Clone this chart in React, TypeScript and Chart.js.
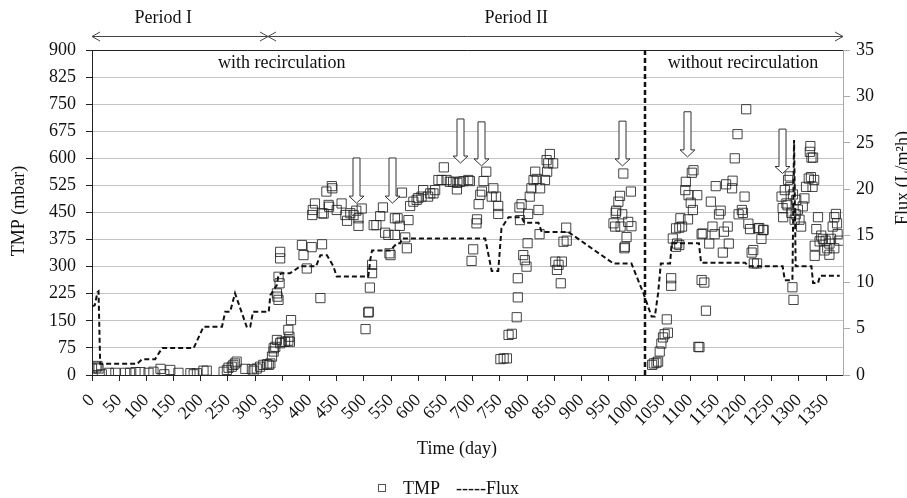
import React, { useEffect, useRef } from "react";
import { Chart, registerables } from "chart.js";

Chart.register(...registerables);

// ---- Data ----
const tmpDays: number[] = [
  0, 8, 10, 12, 18, 31, 43, 61, 70, 80, 89, 104, 113, 126, 133, 144, 159, 181, 187, 193, 205, 211,
  242, 248, 251, 257, 260, 263, 266, 282, 294, 297, 303, 309, 315, 322, 325, 328, 331, 334, 334, 337,
  340, 346, 349, 355, 361, 364, 361, 363, 366, 340, 341, 343, 343, 345, 346, 346,
  386, 389, 395, 404, 420, 423, 406, 405, 410, 426,
  423, 431, 441, 442, 435, 436, 450, 459, 469, 466, 475, 481, 486, 490, 490, 496, 518, 523, 530, 535,
  539, 545, 557, 547, 549, 557, 562, 566, 570, 582, 576, 579, 515, 515, 511, 508, 509, 503, 585, 591,
  597, 600, 606, 609, 618, 622, 628, 631, 637, 643, 647, 652, 658, 664, 671, 672, 677, 683, 692, 695,
  725, 720, 717, 714, 711, 708, 707, 738, 735, 743, 747, 747, 701, 698, 786, 790, 787, 802, 805, 808,
  812, 815, 818, 824, 821, 833, 836, 839, 842, 848, 837, 801, 793, 796, 799, 783, 783, 781, 772, 766,
  763, 757, 751, 823, 852, 858, 864, 855, 862, 867, 873, 872,
  977, 991, 971, 968, 964, 963, 975, 959, 962, 972, 986, 992, 983, 979, 980,
  1033, 1030, 1038, 1041, 1044, 1047, 1050, 1053, 1059, 1057, 1065, 1065, 1068, 1074, 1076, 1080, 1074,
  1082, 1080, 1085, 1096, 1105, 1101, 1097, 1113, 1091, 1092, 1103, 1106, 1117, 1115, 1121, 1123, 1121,
  1126, 1129, 1135, 1138, 1141, 1145, 1147, 1153, 1156, 1160, 1162, 1166, 1169, 1171, 1177, 1178, 1182,
  1187, 1189, 1195, 1197, 1200, 1203, 1207, 1210, 1213, 1216, 1217, 1223, 1227, 1231, 1235, 1225, 1234,
  1268, 1270, 1271, 1274, 1277, 1280, 1283, 1288, 1290, 1286, 1292, 1295, 1298, 1301, 1304, 1307, 1310,
  1313, 1318, 1322, 1328, 1325, 1320, 1323, 1321, 1326, 1335, 1332, 1329, 1329, 1341, 1344, 1349, 1352,
  1356, 1359, 1362, 1365, 1368, 1371, 1374, 1356, 1365, 1370, 1284, 1289, 1279, 1294, 1338, 1347,
];
const tmpValues: number[] = [
  18, 21, 25, 18, 2, 6, 6, 6, 6, 8, 8, 6, 9, 17, 2, 14, 6, 5, 2, 5, 12, 12,
  9, 14, 20, 23, 28, 32, 37, 17, 16, 12, 18, 23, 28, 30, 28, 32, 51, 65, 74, 78,
  97, 88, 92, 92, 95, 92, 125, 106, 152, 226, 217, 208, 272, 254, 323, 341,
  360, 332, 295, 354, 213, 362, 457, 443, 475, 447,
  448, 508, 523, 517, 471, 466, 457, 475, 427, 443, 448, 443, 455, 434, 413, 461, 415, 415, 440, 464,
  394, 388, 388, 337, 332, 434, 434, 413, 505, 429, 381, 351, 305, 282, 242, 173, 175, 127, 468, 480,
  485, 490, 494, 512, 494, 503, 503, 512, 540, 540, 575, 540, 535, 535, 514, 532, 535, 537, 540, 537,
  563, 537, 508, 499, 473, 431, 420, 517, 494, 494, 468, 446, 348, 316, 464, 473, 429, 446, 494, 517,
  540, 563, 543, 517, 457, 540, 595, 586, 612, 586, 563, 365, 332, 318, 300, 268, 215, 160, 114, 111,
  46, 46, 44, 390, 314, 305, 314, 291, 254, 369, 372, 408,
  558, 508, 496, 480, 455, 449, 445, 420, 411, 411, 424, 412, 382, 351, 355,
  32, 28, 34, 37, 65, 87, 104, 113, 117, 154, 268, 247, 378, 355, 364, 360, 406,
  434, 408, 411, 431, 457, 477, 498, 498, 512, 535, 560, 567, 77, 78, 390, 392, 263,
  256, 178, 364, 480, 411, 390, 523, 445, 455, 339, 397, 528, 411, 364, 517, 538, 600,
  667, 445, 457, 449, 494, 736, 419, 404, 339, 346, 309, 309, 407, 377, 402, 406, 401,
  494, 462, 437, 512, 475, 540, 550, 243, 208, 449, 430, 485, 458, 430, 411, 467, 489,
  521, 544, 548, 540, 521, 618, 602, 634, 602, 437, 404, 358, 330, 386, 377, 372, 351,
  364, 377, 411, 437, 446, 390, 372, 333, 351, 420, 520, 500, 470, 445, 370, 345,
];

const fluxDays: number[] = [
  0, 5, 10, 12, 15, 83, 92, 116, 129, 187, 205, 239, 245, 254, 263, 285, 291, 296, 325, 328, 340,
  343, 349, 364, 383, 412, 420, 432, 444, 450, 508, 512, 515, 548, 561, 567, 570, 723, 735, 747,
  753, 766, 790, 795, 821, 827, 876, 959, 992, 1014, 1029, 1035, 1041, 1046, 1063, 1066, 1116, 1120,
  1201, 1207, 1270, 1274, 1288, 1291, 1294, 1323, 1326, 1335, 1339, 1375,
];
const fluxValues: number[] = [
  7.4, 7.5, 8.9, 9.0, 1.2, 1.2, 1.7, 1.7, 2.9, 2.9, 5.2, 5.2, 6.8, 6.8, 8.8, 5.1, 5.2, 6.8, 6.8, 8.6, 9.7,
  10.8, 10.95, 10.95, 11.7, 11.7, 12.9, 12.9, 11.7, 10.6, 10.6, 12.5, 13.4, 13.4, 14.2, 14.2, 14.7, 14.7, 11.2, 11.2,
  15.8, 17.0, 17.0, 16.4, 16.4, 15.4, 15.4, 12.0, 12.0, 8.8, 6.3, 6.3, 8.8, 12.0, 12.0, 14.2, 14.2, 12.1,
  12.1, 11.7, 11.7, 10.2, 10.2, 25.3, 11.7, 11.7, 9.9, 9.9, 10.7, 10.7,
];

const xTickValues: number[] = Array.from({ length: 28 }, (_, i) => i * 50); // 0 … 1350
const periodLabels = ["Period I", "Period II"];
const modeLabels = ["with recirculation", "without recirculation"];
const periodBoundaryDay = 324;
const recircEndDay = 1016;

// hollow "cleaning" arrows (day, top TMP, tip TMP)
const arrowDays = [485, 551, 677, 715, 974, 1095, 1269];
const arrowTops = [601, 601, 709, 701, 703, 729, 681];
const arrowTips = [476, 476, 587, 579, 579, 604, 558];

const FONT = '"Liberation Serif", "Times New Roman", serif';

const overlay = {
  id: "overlay",
  afterDatasetsDraw(chart: any) {
    const { ctx, chartArea, scales } = chart;
    const x = scales.x;
    const y = scales.y;
    ctx.save();
    // top border
    ctx.strokeStyle = "#222";
    ctx.lineWidth = 1;
    ctx.beginPath();
    ctx.moveTo(chartArea.left, chartArea.top + 0.5);
    ctx.lineTo(chartArea.right, chartArea.top + 0.5);
    ctx.stroke();

    // vertical dashed separator
    const sx = Math.round(x.getPixelForValue(recircEndDay));
    ctx.strokeStyle = "#111";
    ctx.lineWidth = 2.5;
    ctx.setLineDash([5, 3]);
    ctx.beginPath();
    ctx.moveTo(sx, chartArea.top);
    ctx.lineTo(sx, chartArea.bottom);
    ctx.stroke();
    ctx.setLineDash([]);

    // hollow down arrows
    ctx.lineWidth = 1;
    ctx.strokeStyle = "#333";
    ctx.fillStyle = "#fff";
    for (let i = 0; i < arrowDays.length; i++) {
      const ax = Math.round(x.getPixelForValue(arrowDays[i])) + 0.5;
      const top = y.getPixelForValue(arrowTops[i]);
      const tip = y.getPixelForValue(arrowTips[i]);
      const hh = 7, sw = 3.5, hw = 7.5;
      ctx.beginPath();
      ctx.moveTo(ax - sw, top);
      ctx.lineTo(ax + sw, top);
      ctx.lineTo(ax + sw, tip - hh);
      ctx.lineTo(ax + hw, tip - hh);
      ctx.lineTo(ax, tip);
      ctx.lineTo(ax - hw, tip - hh);
      ctx.lineTo(ax - sw, tip - hh);
      ctx.closePath();
      ctx.fill();
      ctx.stroke();
    }
    ctx.restore();
  },
  afterDraw(chart: any) {
    const { ctx, chartArea, scales } = chart;
    const x = scales.x;
    ctx.save();
    ctx.fillStyle = "#111";
    ctx.font = `18px ${FONT}`;
    ctx.textAlign = "center";
    ctx.textBaseline = "alphabetic";

    // period arrow line
    const ly = 36.5;
    const l = chartArea.left;
    const r = chartArea.right;
    const b = Math.round(x.getPixelForValue(periodBoundaryDay));
    ctx.strokeStyle = "#444";
    ctx.lineWidth = 1;
    ctx.beginPath();
    ctx.moveTo(l, ly);
    ctx.lineTo(r, ly);
    const chev = (px: number, dir: number) => {
      ctx.moveTo(px - dir * 8, ly - 4.5);
      ctx.lineTo(px, ly);
      ctx.lineTo(px - dir * 8, ly + 4.5);
    };
    chev(l, -1);
    chev(b, 1);
    chev(b, -1);
    chev(r, 1);
    ctx.stroke();

    ctx.fillText(periodLabels[0], x.getPixelForValue(131), 23);
    ctx.fillText(periodLabels[1], x.getPixelForValue(780), 23);
    ctx.fillText(modeLabels[0], x.getPixelForValue(349), 68);
    ctx.fillText(modeLabels[1], x.getPixelForValue(1197), 68);

    // x title
    ctx.fillText("Time (day)", 457, 454);

    // legend
    ctx.strokeStyle = "#555";
    ctx.lineWidth = 1;
    ctx.strokeRect(378.5, 484.5, 7, 7);
    ctx.textAlign = "left";
    ctx.fillText("TMP", 403, 494);
    ctx.fillText("-----Flux", 456, 494);

    // y titles
    ctx.textAlign = "center";
    ctx.save();
    ctx.translate(24, 211);
    ctx.rotate(-Math.PI / 2);
    ctx.fillText("TMP (mbar)", 0, 0);
    ctx.restore();
    ctx.save();
    ctx.translate(908, 178);
    ctx.rotate(-Math.PI / 2);
    ctx.fillText("Flux (L/m²h)", 0, 0);
    ctx.restore();
    ctx.restore();
  },
};

export default function App() {
  const ref = useRef<HTMLCanvasElement | null>(null);
  useEffect(() => {
    document.body.style.margin = "0";
    const canvas = ref.current!;
    const tmpPoints = tmpDays.map((d, i) => ({ x: d, y: tmpValues[i] }));
    const fluxPoints = fluxDays.map((d, i) => ({ x: d, y: fluxValues[i] }));
    const tickFont = { family: FONT, size: 18 };
    const chart = new Chart(canvas, {
      type: "scatter",
      data: {
        datasets: [
          {
            label: "TMP",
            data: tmpPoints,
            yAxisID: "y",
            pointStyle: "rect",
            pointRadius: 6.5,
            borderColor: "rgba(35,35,35,0.85)",
            borderWidth: 1,
            backgroundColor: "rgba(0,0,0,0)",
            showLine: false,
            order: 2,
          },
          {
            label: "Flux",
            data: fluxPoints,
            yAxisID: "y1",
            showLine: true,
            pointRadius: 0,
            borderColor: "#111",
            borderWidth: 2,
            borderDash: [5, 3],
            tension: 0,
            fill: false,
            order: 1,
          },
        ],
      },
      options: {
        animation: false,
        responsive: false,
        devicePixelRatio: 1,
        layout: { padding: { top: 50, left: 0, right: 0, bottom: 0 } },
        plugins: { legend: { display: false }, tooltip: { enabled: false } },
        scales: {
          x: {
            type: "linear",
            min: 0,
            max: 1381,
            afterFit: (s: any) => { s.height = 123; },
            afterBuildTicks: (s: any) => {
              s.ticks = xTickValues.map((v) => ({ value: v }));
            },
            ticks: {
              minRotation: 45,
              maxRotation: 45,
              autoSkip: false,
              font: tickFont,
              color: "#111",
              padding: 9,
              callback: (v: any) => String(v),
            },
            grid: { drawOnChartArea: false, tickLength: 6, tickColor: "#222", color: "#222" },
            border: { color: "#222", width: 1 },
          },
          y: {
            position: "left",
            min: 0,
            max: 900,
            afterFit: (s: any) => { s.width = 92; },
            ticks: { stepSize: 75, font: tickFont, color: "#111", padding: 10 },
            grid: { color: "#c4c4c4", lineWidth: 1, tickLength: 6, tickColor: "#222" },
            border: { color: "#222", width: 1 },
          },
          y1: {
            position: "right",
            min: 0,
            max: 35,
            afterFit: (s: any) => { s.width = 64; },
            ticks: { stepSize: 5, font: tickFont, color: "#111", padding: 6 },
            grid: { drawOnChartArea: false, tickLength: 7, tickColor: "#aaa" },
            border: { color: "#aaa", width: 1 },
          },
        },
      },
      plugins: [overlay],
    });
    return () => chart.destroy();
  }, []);
  return (
    <div style={{ position: "absolute", left: 0, top: 0, width: 907, height: 498, background: "#fff" }}>
      <canvas ref={ref} width={907} height={498} style={{ display: "block" }} />
    </div>
  );
}
